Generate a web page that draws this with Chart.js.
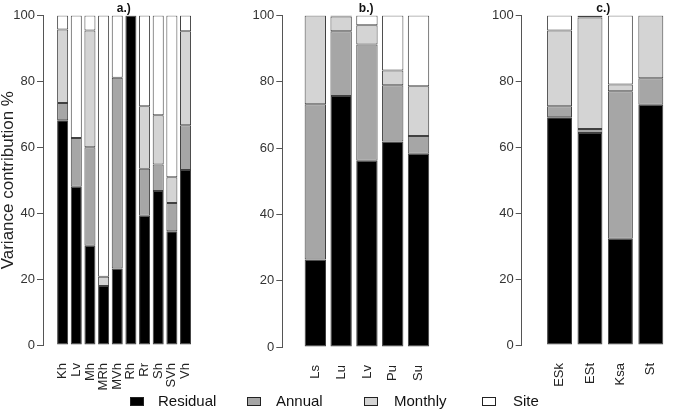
<!DOCTYPE html>
<html><head><meta charset="utf-8">
<script src="https://cdn.jsdelivr.net/npm/chart.js@4.4.0/dist/chart.umd.min.js"></script>
<style>
html,body{margin:0;padding:0;background:#fff;}
body{width:685px;height:411px;position:relative;overflow:hidden;font-family:"Liberation Sans",Arial,sans-serif;}
canvas{position:absolute;top:0;}
.sw{position:absolute;width:12px;height:7px;border:1px solid #222;}
.lt{position:absolute;font-size:15px;line-height:18px;color:#111;white-space:nowrap;}
</style></head>
<body>
<canvas id="ca" width="212" height="411" style="left:0px"></canvas>
<canvas id="cb" width="210" height="411" style="left:240px"></canvas>
<canvas id="cc" width="205" height="411" style="left:480px"></canvas>
<div id="legend"></div>
<script>
const FONT = '"Liberation Sans", Arial, sans-serif';
const seriesNames = ["Residual", "Annual", "Monthly", "Site"];
const seriesColors = ["#000000", "#a6a6a6", "#d4d4d4", "#ffffff"];

const categoriesA = ["Kh", "Lv", "Mh", "MRh", "MVh", "Rh", "Rr", "Sh", "SVh", "Vh"];
const residualA = [68.2, 48.0, 30.1, 17.9, 23.2, 100, 39.2, 46.7, 34.5, 53.1];
const annualA   = [5.2, 14.8, 29.9, 0, 57.9, 0, 14.3, 8.1, 8.6, 13.6];
const monthlyA  = [22.3, 0, 35.4, 2.8, 0, 0, 18.9, 14.9, 7.8, 28.5];
const siteA     = [4.3, 37.2, 4.6, 79.3, 18.9, 0, 27.6, 30.3, 49.1, 4.8];

const categoriesB = ["Ls", "Lu", "Lv", "Pu", "Su"];
const residualB = [26.4, 75.7, 56.2, 62.0, 58.3];
const annualB   = [46.8, 19.5, 35.0, 16.9, 5.3];
const monthlyB  = [26.8, 4.5, 5.8, 4.5, 15.0];
const siteB     = [0, 0.3, 3.0, 16.6, 21.4];

const categoriesC = ["ESk", "ESt", "Ksa", "St"];
const residualC = [69.1, 64.3, 32.2, 72.9];
const annualC   = [3.3, 1.2, 44.8, 8.0];
const monthlyC  = [23.0, 33.9, 2.0, 19.1];
const siteC     = [4.6, 0.6, 21.0, 0];

const yTicks = [0, 20, 40, 60, 80, 100];
const yTitle = "Variance contribution %";

function makePanel(id, title, cats, vals, opt) {
  const datasets = seriesNames.map((n, k) => ({
    label: n,
    stack: 'all',
    data: vals[k].map((v, i) => ({ x: i, y: v })),
    backgroundColor: seriesColors[k],
    borderColor: '#404040',
    borderWidth: 1,
    borderSkipped: false,
    barPercentage: opt.barPct,
    categoryPercentage: 1,
    inflateAmount: 0
  }));
  return new Chart(document.getElementById(id), {
    type: 'bar',
    data: { datasets },
    options: {
      responsive: false,
      animation: false,
      layout: { padding: 0 },
      plugins: {
        legend: { display: false },
        tooltip: { enabled: false },
        title: {
          display: true, text: title, fullSize: false,
          font: { family: FONT, size: 12, weight: 'bold' }, color: '#111',
          padding: { top: 1, bottom: 0 }
        }
      },
      scales: {
        x: {
          type: 'linear', min: opt.xmin, max: opt.xmax,
          grid: { display: false }, border: { display: false },
          afterBuildTicks: s => { s.ticks = cats.map((c, i) => ({ value: i })); },
          ticks: {
            autoSkip: false, minRotation: 90, maxRotation: 90, padding: opt.labelPad,
            font: { family: FONT, size: 13 }, color: '#222',
            callback: v => cats[v]
          },
          afterFit: s => { s.height = opt.xh; }
        },
        y: {
          stacked: true, min: 0, max: 100,
          afterBuildTicks: s => { s.ticks = yTicks.map(v => ({ value: v })); },
          ticks: { font: { family: FONT, size: 13 }, color: '#333', padding: 2 },
          grid: { drawOnChartArea: false, tickLength: 6, color: '#555' },
          border: { display: true, color: '#555' },
          title: opt.ytitle ? { display: true, text: opt.ytitle, font: { family: FONT, size: 17, lineHeight: 1 }, color: '#222', padding: 0 } : { display: false },
          afterFit: s => { s.width = opt.yw; }
        }
      }
    }
  });
}

makePanel('ca', 'a.)', categoriesA, [residualA, annualA, monthlyA, siteA],
  { xmin: -0.845, xmax: 9.81, barPct: 0.807, yw: 43, xh: 66, labelPad: 10, ytitle: yTitle });
makePanel('cb', 'b.)', categoriesB, [residualB, annualB, monthlyB, siteB],
  { xmin: -0.63, xmax: 4.57, barPct: 0.828, yw: 42.3, xh: 64, labelPad: 10 });
makePanel('cc', 'c.)', categoriesC, [residualC, annualC, monthlyC, siteC],
  { xmin: -0.573, xmax: 3.453, barPct: 0.82, yw: 41.7, xh: 66, labelPad: 10 });

// legend
const legendSwatchX = [130, 247, 364, 482];
const legendTextX = [158, 276, 394, 513];
const leg = document.getElementById('legend');
seriesNames.forEach((n, k) => {
  const sw = document.createElement('div');
  sw.className = 'sw';
  sw.style.left = legendSwatchX[k] + 'px';
  sw.style.top = '397px';
  sw.style.background = seriesColors[k];
  leg.appendChild(sw);
  const t = document.createElement('div');
  t.className = 'lt';
  t.style.left = legendTextX[k] + 'px';
  t.style.top = '392px';
  t.textContent = n;
  leg.appendChild(t);
});
</script>
</body></html>
